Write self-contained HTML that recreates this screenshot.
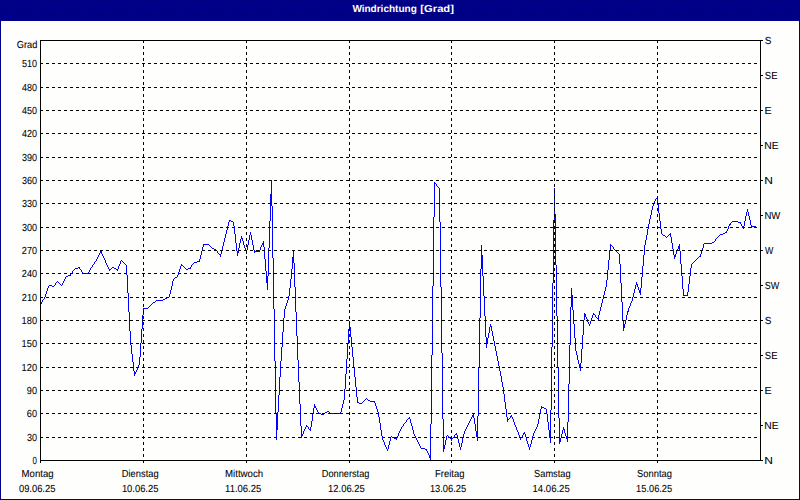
<!DOCTYPE html>
<html><head><meta charset="utf-8"><title>Windrichtung [Grad]</title>
<style>
html,body{margin:0;padding:0;background:#fefefd;}
body{width:800px;height:500px;overflow:hidden;position:relative;font-family:"Liberation Sans",sans-serif;}
svg{position:absolute;left:0;top:0;display:block;}
text{font-family:"Liberation Sans",sans-serif;font-size:10.2px;fill:#000;text-rendering:geometricPrecision;stroke:#000;stroke-width:0.07px;}
.t{font-weight:bold;fill:#fff;stroke:none;}
</style></head><body>
<svg width="800" height="500" viewBox="0 0 800 500">
<rect x="0" y="0" width="800" height="500" fill="#fefefd"/>
<g shape-rendering="crispEdges">
<rect x="0" y="0" width="800" height="21" fill="#00008a"/>
<line x1="2" y1="2.5" x2="800" y2="2.5" stroke="#000066" stroke-width="1" stroke-dasharray="1 2"/>
<line x1="2" y1="5.5" x2="800" y2="5.5" stroke="#000066" stroke-width="1" stroke-dasharray="1 2"/>
<line x1="1" y1="8.5" x2="800" y2="8.5" stroke="#000066" stroke-width="1" stroke-dasharray="1 2"/>
<line x1="1" y1="11.5" x2="800" y2="11.5" stroke="#000066" stroke-width="1" stroke-dasharray="1 2"/>
<line x1="0" y1="14.5" x2="800" y2="14.5" stroke="#000066" stroke-width="1" stroke-dasharray="1 2"/>
<line x1="2" y1="17.5" x2="800" y2="17.5" stroke="#000066" stroke-width="1" stroke-dasharray="1 2"/>
<rect x="0" y="0" width="1" height="500" fill="#00008a"/>
<rect x="799" y="0" width="1" height="500" fill="#00008a"/>
<rect x="0" y="499" width="800" height="1" fill="#00008a"/>
</g>
<text class="t" x="352.39" y="12" textLength="64.38" lengthAdjust="spacingAndGlyphs">Windrichtung</text>
<text class="t" x="420.37" y="12" textLength="33.56" lengthAdjust="spacingAndGlyphs">[Grad]</text>
<path fill="#0000ff" shape-rendering="crispEdges" d="M41 302v2h1v-2zM42 300v2h1v-2zM44 297v2h1v-2zM45 294v3h1v-3zM46 291v3h1v-3zM47 288v3h1v-3zM48 286v2h1v-2zM55 283v2h1v-2zM62 283v2h1v-2zM63 281v2h1v-2zM64 279v2h1v-2zM65 277v2h1v-2zM70 274v2h1v-2zM72 271v2h1v-2zM79 267v2h1v-2zM81 270v2h1v-2zM88 272v2h1v-2zM89 270v2h1v-2zM90 268v2h1v-2zM92 265v2h1v-2zM94 262v2h1v-2zM96 259v2h1v-2zM97 257v2h1v-2zM98 255v2h1v-2zM99 253v2h1v-2zM100 251v2h1v-2zM101 251v3h1v-3zM102 254v2h1v-2zM103 256v2h1v-2zM104 258v2h1v-2zM105 260v3h1v-3zM106 263v2h1v-2zM107 265v2h1v-2zM108 267v2h1v-2zM109 269v2h1v-2zM117 269v2h1v-2zM118 266v3h1v-3zM119 264v2h1v-2zM120 261v3h1v-3zM126 265v10h1v-10zM127 275v18h1v-18zM128 293v19h1v-19zM129 312v19h1v-19zM130 331v14h1v-14zM131 345v9h1v-9zM132 354v8h1v-8zM133 362v9h1v-9zM134 371v5h1v-5zM135 372v2h1v-2zM136 370v2h1v-2zM137 368v2h1v-2zM138 365v3h1v-3zM139 357v8h1v-8zM140 343v14h1v-14zM141 329v14h1v-14zM142 315v14h1v-14zM143 308v7h1v-7zM169 294v3h1v-3zM170 290v4h1v-4zM171 286v4h1v-4zM172 281v5h1v-5zM173 279v2h1v-2zM177 275v2h1v-2zM178 272v3h1v-3zM179 269v3h1v-3zM180 266v3h1v-3zM181 264v2h1v-2zM190 267v2h1v-2zM191 265v2h1v-2zM199 259v3h1v-3zM200 255v4h1v-4zM201 251v4h1v-4zM202 247v4h1v-4zM203 244v3h1v-3zM217 251v2h1v-2zM220 254v3h1v-3zM221 250v4h1v-4zM222 246v4h1v-4zM223 242v4h1v-4zM224 238v4h1v-4zM225 234v4h1v-4zM226 230v4h1v-4zM227 226v4h1v-4zM228 222v4h1v-4zM229 220v2h1v-2zM233 222v4h1v-4zM234 226v8h1v-8zM235 234v9h1v-9zM236 243v8h1v-8zM237 251v5h1v-5zM238 248v5h1v-5zM239 243v5h1v-5zM240 239v4h1v-4zM241 236v3h1v-3zM242 238v3h1v-3zM243 241v4h1v-4zM244 245v3h1v-3zM245 248v3h1v-3zM246 250v4h1v-4zM247 245v5h1v-5zM248 240v5h1v-5zM249 235v5h1v-5zM250 232v3h1v-3zM251 235v5h1v-5zM252 240v5h1v-5zM253 245v5h1v-5zM254 250v3h1v-3zM259 250v2h1v-2zM260 247v3h1v-3zM261 245v2h1v-2zM262 243v2h1v-2zM263 241v6h1v-6zM264 247v12h1v-12zM265 259v12h1v-12zM266 271v12h1v-12zM267 276v14h1v-14zM268 248v28h1v-28zM269 221v27h1v-27zM270 194v27h1v-27zM271 180v26h1v-26zM272 206v52h1v-52zM273 258v51h1v-51zM274 309v52h1v-52zM275 361v52h1v-52zM276 413v27h1v-27zM277 412v18h1v-18zM278 395v17h1v-17zM279 377v18h1v-18zM280 361v16h1v-16zM281 347v14h1v-14zM282 332v15h1v-15zM283 318v14h1v-14zM284 309v9h1v-9zM285 306v3h1v-3zM286 303v3h1v-3zM287 300v3h1v-3zM288 296v4h1v-4zM289 288v8h1v-8zM290 279v9h1v-9zM291 269v10h1v-10zM292 257v12h1v-12zM293 251v12h1v-12zM294 263v24h1v-24zM295 287v25h1v-25zM296 312v24h1v-24zM297 336v24h1v-24zM298 360v22h1v-22zM299 382v22h1v-22zM300 404v22h1v-22zM301 426v12h1v-12zM302 434v2h1v-2zM303 431v3h1v-3zM304 429v2h1v-2zM305 427v2h1v-2zM306 425v2h1v-2zM308 427v2h1v-2zM310 427v4h1v-4zM311 421v6h1v-6zM312 414v7h1v-7zM313 408v6h1v-6zM314 404v4h1v-4zM315 406v2h1v-2zM316 408v2h1v-2zM317 410v2h1v-2zM318 412v2h1v-2zM340 412v2h1v-2zM341 408v4h1v-4zM342 404v4h1v-4zM343 400v4h1v-4zM344 389v11h1v-11zM345 374v15h1v-15zM346 359v15h1v-15zM347 344v15h1v-15zM348 329v15h1v-15zM349 321v8h1v-8zM350 327v10h1v-10zM351 337v10h1v-10zM352 347v10h1v-10zM353 357v10h1v-10zM354 367v10h1v-10zM355 377v10h1v-10zM356 387v10h1v-10zM357 397v6h1v-6zM374 401v2h1v-2zM375 403v3h1v-3zM376 406v3h1v-3zM377 409v3h1v-3zM378 412v5h1v-5zM379 417v6h1v-6zM380 423v7h1v-7zM381 430v6h1v-6zM382 436v4h1v-4zM383 440v2h1v-2zM384 442v3h1v-3zM385 445v2h1v-2zM386 447v2h1v-2zM387 449v2h1v-2zM388 445v4h1v-4zM389 441v4h1v-4zM390 437v4h1v-4zM396 438v2h1v-2zM397 436v2h1v-2zM398 433v3h1v-3zM399 431v2h1v-2zM400 429v2h1v-2zM401 427v2h1v-2zM403 424v2h1v-2zM406 420v2h1v-2zM409 417v2h1v-2zM410 419v4h1v-4zM411 423v3h1v-3zM412 426v4h1v-4zM413 430v4h1v-4zM414 434v2h1v-2zM415 436v2h1v-2zM416 438v2h1v-2zM417 440v2h1v-2zM418 442v2h1v-2zM419 444v2h1v-2zM420 446v2h1v-2zM426 449v2h1v-2zM427 451v2h1v-2zM428 453v2h1v-2zM429 455v3h1v-3zM430 424v36h1v-36zM431 355v69h1v-69zM432 286v69h1v-69zM433 217v69h1v-69zM434 182v35h1v-35zM436 184v2h1v-2zM439 188v34h1v-34zM440 222v65h1v-65zM441 287v66h1v-66zM442 353v66h1v-66zM443 419v33h1v-33zM444 445v4h1v-4zM445 440v5h1v-5zM446 436v4h1v-4zM451 439v2h1v-2zM454 435v2h1v-2zM456 433v2h1v-2zM457 435v4h1v-4zM458 439v4h1v-4zM459 443v4h1v-4zM460 447v3h1v-3zM461 443v4h1v-4zM462 438v5h1v-5zM463 434v4h1v-4zM464 431v3h1v-3zM465 429v2h1v-2zM466 427v2h1v-2zM467 425v2h1v-2zM468 423v2h1v-2zM469 421v2h1v-2zM470 419v2h1v-2zM471 417v2h1v-2zM472 415v2h1v-2zM473 414v4h1v-4zM474 418v6h1v-6zM475 424v7h1v-7zM476 431v6h1v-6zM477 416v25h1v-25zM478 367v49h1v-49zM479 318v49h1v-49zM480 269v49h1v-49zM481 245v24h1v-24zM482 255v21h1v-21zM483 276v20h1v-20zM484 296v20h1v-20zM485 316v21h1v-21zM486 337v11h1v-11zM487 338v6h1v-6zM488 333v5h1v-5zM489 327v6h1v-6zM490 324v3h1v-3zM491 326v5h1v-5zM492 331v5h1v-5zM493 336v5h1v-5zM494 341v5h1v-5zM495 346v5h1v-5zM496 351v5h1v-5zM497 356v5h1v-5zM498 361v5h1v-5zM499 366v5h1v-5zM500 371v5h1v-5zM501 376v6h1v-6zM502 382v5h1v-5zM503 387v7h1v-7zM504 394v8h1v-8zM505 402v7h1v-7zM506 409v8h1v-8zM507 417v5h1v-5zM510 416v2h1v-2zM511 415v2h1v-2zM512 417v2h1v-2zM513 419v3h1v-3zM514 422v3h1v-3zM515 425v2h1v-2zM516 427v3h1v-3zM517 430v2h1v-2zM518 432v3h1v-3zM519 435v3h1v-3zM520 438v2h1v-2zM522 435v2h1v-2zM523 433v2h1v-2zM524 432v2h1v-2zM525 434v3h1v-3zM526 437v4h1v-4zM527 441v3h1v-3zM528 444v3h1v-3zM529 447v3h1v-3zM530 444v3h1v-3zM531 440v4h1v-4zM532 436v4h1v-4zM533 433v3h1v-3zM534 431v2h1v-2zM535 429v2h1v-2zM536 427v2h1v-2zM537 424v3h1v-3zM538 419v5h1v-5zM539 414v5h1v-5zM540 409v5h1v-5zM541 406v3h1v-3zM546 409v5h1v-5zM547 414v8h1v-8zM548 422v8h1v-8zM549 430v8h1v-8zM550 410v33h1v-33zM551 347v63h1v-63zM552 283v64h1v-64zM553 220v63h1v-63zM554 188v32h1v-32zM555 214v51h1v-51zM556 265v51h1v-51zM557 316v51h1v-51zM558 367v51h1v-51zM559 418v26h1v-26zM560 438v4h1v-4zM561 434v4h1v-4zM562 430v4h1v-4zM563 427v3h1v-3zM564 429v4h1v-4zM565 433v3h1v-3zM566 436v3h1v-3zM567 422v20h1v-20zM568 384v38h1v-38zM569 345v39h1v-39zM570 307v38h1v-38zM571 288v19h1v-19zM572 295v15h1v-15zM573 310v14h1v-14zM574 324v14h1v-14zM575 338v13h1v-13zM576 351v4h1v-4zM577 355v5h1v-5zM578 360v4h1v-4zM579 364v4h1v-4zM580 363v8h1v-8zM581 349v14h1v-14zM582 335v14h1v-14zM583 320v15h1v-15zM584 313v7h1v-7zM585 314v3h1v-3zM586 317v2h1v-2zM587 319v3h1v-3zM588 322v2h1v-2zM589 324v2h1v-2zM590 321v3h1v-3zM591 318v3h1v-3zM592 315v3h1v-3zM593 313v2h1v-2zM595 315v2h1v-2zM598 315v5h1v-5zM599 311v4h1v-4zM600 307v4h1v-4zM601 303v4h1v-4zM602 299v4h1v-4zM603 295v4h1v-4zM604 291v4h1v-4zM605 287v4h1v-4zM606 280v7h1v-7zM607 270v10h1v-10zM608 260v10h1v-10zM609 250v10h1v-10zM610 244v6h1v-6zM613 247v2h1v-2zM619 254v10h1v-10zM620 264v19h1v-19zM621 283v19h1v-19zM622 302v19h1v-19zM623 321v10h1v-10zM624 324v4h1v-4zM625 320v4h1v-4zM626 315v5h1v-5zM627 311v4h1v-4zM628 308v4h1v-4zM629 306v2h1v-2zM630 303v3h1v-3zM631 301v2h1v-2zM632 297v4h1v-4zM633 293v4h1v-4zM634 289v4h1v-4zM635 285v4h1v-4zM636 282v3h1v-3zM637 284v3h1v-3zM638 287v3h1v-3zM639 290v3h1v-3zM640 288v7h1v-7zM641 277v11h1v-11zM642 266v11h1v-11zM643 255v11h1v-11zM644 245v10h1v-10zM645 240v5h1v-5zM646 235v5h1v-5zM647 229v6h1v-6zM648 224v5h1v-5zM649 219v5h1v-5zM650 215v4h1v-4zM651 210v5h1v-5zM652 206v4h1v-4zM653 203v3h1v-3zM654 201v2h1v-2zM655 199v2h1v-2zM657 197v7h1v-7zM658 204v9h1v-9zM659 213v8h1v-8zM660 221v8h1v-8zM661 229v5h1v-5zM670 233v4h1v-4zM671 237v6h1v-6zM672 243v6h1v-6zM673 249v6h1v-6zM674 255v4h1v-4zM675 254v3h1v-3zM676 251v3h1v-3zM677 249v2h1v-2zM678 246v3h1v-3zM679 244v7h1v-7zM680 251v13h1v-13zM681 264v12h1v-12zM682 276v13h1v-13zM683 289v7h1v-7zM687 292v4h1v-4zM688 284v8h1v-8zM689 276v8h1v-8zM690 268v8h1v-8zM691 264v4h1v-4zM700 254v3h1v-3zM701 251v3h1v-3zM702 248v3h1v-3zM703 244v4h1v-4zM715 239v2h1v-2zM726 231v2h1v-2zM727 229v2h1v-2zM728 226v3h1v-3zM729 224v2h1v-2zM730 223v2h1v-2zM740 222v2h1v-2zM741 224v2h1v-2zM743 226v3h1v-3zM744 221v5h1v-5zM745 216v5h1v-5zM746 212v4h1v-4zM747 209v3h1v-3zM748 212v4h1v-4zM749 216v4h1v-4zM750 220v5h1v-5zM751 225v3h1v-3zM435 183h1v1h-1zM437 186h1v1h-1zM438 187h1v1h-1zM656 198h1v1h-1zM230 220h1v1h-1zM231 221h2v1h-2zM732 221h6v1h-6zM731 222h1v1h-1zM738 222h2v1h-2zM742 226h1v1h-1zM752 226h4v1h-4zM756 227h1v1h-1zM725 232h1v1h-1zM723 233h2v1h-2zM662 234h1v1h-1zM669 234h1v1h-1zM720 234h3v1h-3zM663 235h2v1h-2zM668 235h1v1h-1zM719 235h1v1h-1zM665 236h1v1h-1zM667 236h1v1h-1zM718 236h1v1h-1zM666 237h1v1h-1zM717 237h1v1h-1zM716 238h1v1h-1zM714 241h1v1h-1zM712 242h2v1h-2zM704 243h8v1h-8zM204 244h5v1h-5zM209 245h1v1h-1zM611 245h1v1h-1zM210 246h1v1h-1zM612 246h1v1h-1zM211 247h1v1h-1zM212 248h2v1h-2zM214 249h2v1h-2zM614 249h1v1h-1zM216 250h1v1h-1zM615 250h1v1h-1zM255 251h4v1h-4zM616 251h1v1h-1zM617 252h1v1h-1zM218 253h1v1h-1zM618 253h1v1h-1zM219 254h1v1h-1zM699 256h1v1h-1zM698 257h1v1h-1zM697 258h1v1h-1zM696 259h1v1h-1zM121 260h1v1h-1zM695 260h1v1h-1zM95 261h1v1h-1zM122 261h1v1h-1zM197 261h2v1h-2zM694 261h1v1h-1zM123 262h1v1h-1zM194 262h3v1h-3zM693 262h1v1h-1zM124 263h1v1h-1zM193 263h1v1h-1zM692 263h1v1h-1zM93 264h1v1h-1zM125 264h1v1h-1zM192 264h1v1h-1zM182 265h1v1h-1zM183 266h1v1h-1zM78 267h1v1h-1zM91 267h1v1h-1zM112 267h2v1h-2zM184 267h1v1h-1zM75 268h3v1h-3zM111 268h1v1h-1zM114 268h2v1h-2zM185 268h1v1h-1zM188 268h2v1h-2zM74 269h1v1h-1zM80 269h1v1h-1zM110 269h1v1h-1zM116 269h1v1h-1zM186 269h2v1h-2zM73 270h1v1h-1zM82 272h1v1h-1zM71 273h1v1h-1zM83 273h5v1h-5zM68 275h2v1h-2zM66 276h2v1h-2zM175 277h2v1h-2zM174 278h1v1h-1zM57 281h1v1h-1zM56 282h1v1h-1zM58 282h1v1h-1zM59 283h1v1h-1zM60 284h1v1h-1zM49 285h3v1h-3zM54 285h1v1h-1zM61 285h1v1h-1zM52 286h2v1h-2zM684 295h3v1h-3zM167 297h2v1h-2zM165 298h2v1h-2zM43 299h1v1h-1zM163 299h2v1h-2zM156 300h7v1h-7zM155 301h1v1h-1zM153 302h2v1h-2zM152 303h1v1h-1zM40 304h1v1h-1zM151 304h1v1h-1zM150 305h1v1h-1zM149 306h1v1h-1zM148 307h1v1h-1zM144 308h4v1h-4zM594 314h1v1h-1zM596 317h1v1h-1zM597 318h1v1h-1zM366 398h1v1h-1zM365 399h1v1h-1zM367 399h1v1h-1zM364 400h1v1h-1zM368 400h2v1h-2zM363 401h1v1h-1zM370 401h4v1h-4zM358 402h1v1h-1zM362 402h1v1h-1zM359 403h3v1h-3zM542 407h2v1h-2zM544 408h2v1h-2zM327 411h2v1h-2zM325 412h2v1h-2zM329 412h1v1h-1zM319 413h2v1h-2zM324 413h1v1h-1zM330 413h10v1h-10zM321 414h3v1h-3zM408 418h1v1h-1zM509 418h1v1h-1zM407 419h1v1h-1zM508 419h1v1h-1zM405 422h1v1h-1zM404 423h1v1h-1zM307 426h1v1h-1zM402 426h1v1h-1zM309 429h1v1h-1zM455 434h1v1h-1zM447 435h1v1h-1zM391 436h1v1h-1zM448 436h1v1h-1zM392 437h2v1h-2zM449 437h1v1h-1zM453 437h1v1h-1zM521 437h1v1h-1zM394 438h2v1h-2zM450 438h1v1h-1zM452 438h1v1h-1zM421 448h4v1h-4zM425 449h1v1h-1z"/>
<g stroke="#000" stroke-width="1" shape-rendering="crispEdges" stroke-dasharray="3 3">
<line x1="40" y1="437.5" x2="758" y2="437.5"/>
<line x1="40" y1="413.5" x2="758" y2="413.5"/>
<line x1="40" y1="390.5" x2="758" y2="390.5"/>
<line x1="40" y1="367.5" x2="758" y2="367.5"/>
<line x1="40" y1="343.5" x2="758" y2="343.5"/>
<line x1="40" y1="320.5" x2="758" y2="320.5"/>
<line x1="40" y1="297.5" x2="758" y2="297.5"/>
<line x1="40" y1="273.5" x2="758" y2="273.5"/>
<line x1="40" y1="250.5" x2="758" y2="250.5"/>
<line x1="40" y1="227.5" x2="758" y2="227.5"/>
<line x1="40" y1="203.5" x2="758" y2="203.5"/>
<line x1="40" y1="180.5" x2="758" y2="180.5"/>
<line x1="40" y1="157.5" x2="758" y2="157.5"/>
<line x1="40" y1="133.5" x2="758" y2="133.5"/>
<line x1="40" y1="110.5" x2="758" y2="110.5"/>
<line x1="40" y1="87.5" x2="758" y2="87.5"/>
<line x1="40" y1="63.5" x2="758" y2="63.5"/>
<line x1="143.5" y1="40" x2="143.5" y2="458"/>
<line x1="246.5" y1="40" x2="246.5" y2="458"/>
<line x1="349.5" y1="40" x2="349.5" y2="458"/>
<line x1="451.5" y1="40" x2="451.5" y2="458"/>
<line x1="554.5" y1="40" x2="554.5" y2="458"/>
<line x1="657.5" y1="40" x2="657.5" y2="458"/>
</g>
<g fill="#000" shape-rendering="crispEdges">
<rect x="40" y="40" width="721" height="1"/>
<rect x="40" y="460" width="721" height="1"/>
<rect x="40" y="40" width="1" height="421"/>
<rect x="760" y="40" width="1" height="421"/>
<rect x="40" y="461" width="1" height="2"/>
<rect x="143" y="461" width="1" height="2"/>
<rect x="246" y="461" width="1" height="2"/>
<rect x="349" y="461" width="1" height="2"/>
<rect x="451" y="461" width="1" height="2"/>
<rect x="554" y="461" width="1" height="2"/>
<rect x="657" y="461" width="1" height="2"/>
<rect x="761" y="40" width="2" height="1"/>
<rect x="761" y="75" width="2" height="1"/>
<rect x="761" y="110" width="2" height="1"/>
<rect x="761" y="145" width="2" height="1"/>
<rect x="761" y="180" width="2" height="1"/>
<rect x="761" y="215" width="2" height="1"/>
<rect x="761" y="250" width="2" height="1"/>
<rect x="761" y="285" width="2" height="1"/>
<rect x="761" y="320" width="2" height="1"/>
<rect x="761" y="355" width="2" height="1"/>
<rect x="761" y="390" width="2" height="1"/>
<rect x="761" y="425" width="2" height="1"/>
<rect x="761" y="460" width="2" height="1"/>
</g>
<text x="16.83" y="48" textLength="20.56" lengthAdjust="spacingAndGlyphs">Grad</text>
<text x="32.59" y="464" textLength="4.42" lengthAdjust="spacingAndGlyphs">0</text>
<text x="26.95" y="441" textLength="10.10" lengthAdjust="spacingAndGlyphs">30</text>
<text x="26.83" y="417" textLength="10.23" lengthAdjust="spacingAndGlyphs">60</text>
<text x="26.87" y="394" textLength="10.19" lengthAdjust="spacingAndGlyphs">90</text>
<text x="21.59" y="371" textLength="15.47" lengthAdjust="spacingAndGlyphs">120</text>
<text x="21.59" y="347" textLength="15.47" lengthAdjust="spacingAndGlyphs">150</text>
<text x="21.59" y="324" textLength="15.47" lengthAdjust="spacingAndGlyphs">180</text>
<text x="21.84" y="301" textLength="15.21" lengthAdjust="spacingAndGlyphs">210</text>
<text x="21.84" y="277" textLength="15.21" lengthAdjust="spacingAndGlyphs">240</text>
<text x="21.84" y="254" textLength="15.21" lengthAdjust="spacingAndGlyphs">270</text>
<text x="21.96" y="231" textLength="15.10" lengthAdjust="spacingAndGlyphs">300</text>
<text x="21.96" y="207" textLength="15.10" lengthAdjust="spacingAndGlyphs">330</text>
<text x="21.96" y="184" textLength="15.10" lengthAdjust="spacingAndGlyphs">360</text>
<text x="21.96" y="161" textLength="15.10" lengthAdjust="spacingAndGlyphs">390</text>
<text x="22.09" y="137" textLength="14.96" lengthAdjust="spacingAndGlyphs">420</text>
<text x="22.09" y="114" textLength="14.96" lengthAdjust="spacingAndGlyphs">450</text>
<text x="22.09" y="91" textLength="14.96" lengthAdjust="spacingAndGlyphs">480</text>
<text x="21.94" y="67" textLength="15.12" lengthAdjust="spacingAndGlyphs">510</text>
<text x="764.74" y="44" textLength="6.72" lengthAdjust="spacingAndGlyphs">S</text>
<text x="764.77" y="79" textLength="12.74" lengthAdjust="spacingAndGlyphs">SE</text>
<text x="764.52" y="114" textLength="7.14" lengthAdjust="spacingAndGlyphs">E</text>
<text x="764.36" y="149" textLength="14.29" lengthAdjust="spacingAndGlyphs">NE</text>
<text x="764.32" y="184" textLength="8.66" lengthAdjust="spacingAndGlyphs">N</text>
<text x="764.42" y="219" textLength="15.92" lengthAdjust="spacingAndGlyphs">NW</text>
<text x="764.96" y="254" textLength="8.37" lengthAdjust="spacingAndGlyphs">W</text>
<text x="764.79" y="289" textLength="14.54" lengthAdjust="spacingAndGlyphs">SW</text>
<text x="764.74" y="324" textLength="6.72" lengthAdjust="spacingAndGlyphs">S</text>
<text x="764.77" y="359" textLength="12.74" lengthAdjust="spacingAndGlyphs">SE</text>
<text x="764.52" y="394" textLength="7.14" lengthAdjust="spacingAndGlyphs">E</text>
<text x="764.36" y="429" textLength="14.29" lengthAdjust="spacingAndGlyphs">NE</text>
<text x="764.32" y="464" textLength="8.66" lengthAdjust="spacingAndGlyphs">N</text>
<text x="21.61" y="477" textLength="32.01" lengthAdjust="spacingAndGlyphs">Montag</text>
<text x="18.93" y="492" textLength="36.46" lengthAdjust="spacingAndGlyphs">09.06.25</text>
<text x="121.84" y="477" textLength="36.76" lengthAdjust="spacingAndGlyphs">Dienstag</text>
<text x="121.89" y="492" textLength="36.51" lengthAdjust="spacingAndGlyphs">10.06.25</text>
<text x="225.01" y="477" textLength="38.12" lengthAdjust="spacingAndGlyphs">Mittwoch</text>
<text x="225.09" y="492" textLength="36.10" lengthAdjust="spacingAndGlyphs">11.06.25</text>
<text x="321.74" y="477" textLength="47.65" lengthAdjust="spacingAndGlyphs">Donnerstag</text>
<text x="328.08" y="492" textLength="36.61" lengthAdjust="spacingAndGlyphs">12.06.25</text>
<text x="435.03" y="477" textLength="29.38" lengthAdjust="spacingAndGlyphs">Freitag</text>
<text x="429.89" y="492" textLength="36.30" lengthAdjust="spacingAndGlyphs">13.06.25</text>
<text x="534.08" y="477" textLength="36.52" lengthAdjust="spacingAndGlyphs">Samstag</text>
<text x="532.57" y="492" textLength="37.13" lengthAdjust="spacingAndGlyphs">14.06.25</text>
<text x="637.08" y="477" textLength="34.83" lengthAdjust="spacingAndGlyphs">Sonntag</text>
<text x="636.09" y="492" textLength="36.10" lengthAdjust="spacingAndGlyphs">15.06.25</text>
</svg>
</body></html>
